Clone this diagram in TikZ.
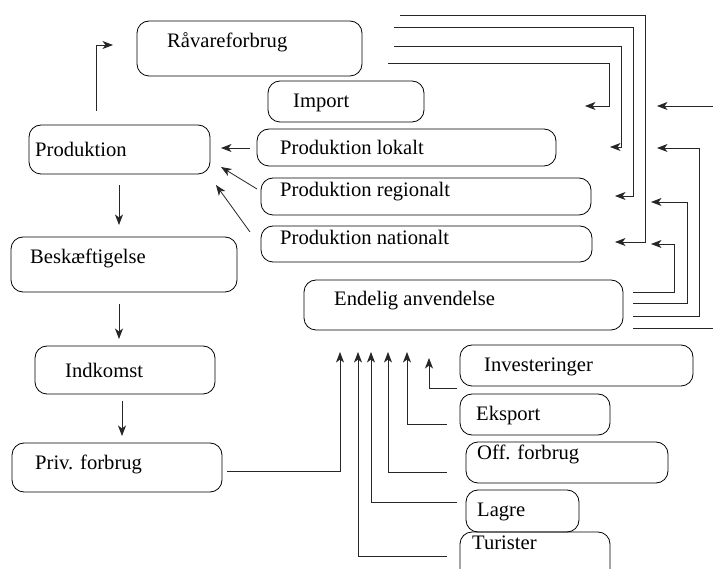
\documentclass[tikz,border=0pt]{standalone}
\usepackage{fontspec}
\setmainfont{Liberation Serif}
\usetikzlibrary{arrows.meta,fit}
\begin{document}
\begin{tikzpicture}[x=1pt,y=-1pt,
  box/.style={draw=black,line width=0.8pt,rounded corners=12pt,inner sep=0pt},
  txt/.style={anchor=base west,inner sep=0pt,font=\fontsize{20.6}{24}\selectfont},
  arr/.style={draw=black!85,line width=0.8pt,-{Stealth[length=10.5pt,width=8pt,inset=3pt]}},
  ln/.style={draw=black!85,line width=0.8pt}]
\useasboundingbox (0,0) rectangle (713,569);
\clip (0,0) rectangle (713,569);

% boxes
\node[box,fit={(137,21) (362,76)}]   (rav)  {};
\node[box,fit={(268,81) (424,122)}]  (imp)  {};
\node[box,fit={(29,125) (210,174)}]  (prod) {};
\node[box,fit={(257,129) (556,166)}] (lok)  {};
\node[box,fit={(261,178) (591,215)}] (reg)  {};
\node[box,fit={(261,226) (592,262)}] (nat)  {};
\node[box,fit={(304,280) (623,330)}] (endl) {};
\node[box,fit={(11,237) (237,292)}]  (besk) {};
\node[box,fit={(35,346) (215,394)}]  (ind)  {};
\node[box,fit={(12,443) (222,492)}]  (priv) {};
\node[box,fit={(460,345) (693,386)}] (inv)  {};
\node[box,fit={(460,394) (610,435)}] (eks)  {};
\node[box,fit={(466,442) (668,483)}] (off)  {};
\node[box,fit={(466,490) (579,532)}] (lag)  {};
\node[box,fit={(460,532) (610,582)}] (tur)  {};

% labels
\node[txt] (travn) at (167,48)  {Råvareforbrug};
\node[txt] (timp)  at (293,108) {Import};
\node[txt] (tprod) at (35,157)  {Produktion};
\node[txt] (tlok)  at (280,155) {Produktion lokalt};
\node[txt] (treg)  at (280,197) {Produktion regionalt};
\node[txt] (tnat)  at (280,245) {Produktion nationalt};
\node[txt] (tend)  at (334,306) {Endelig anvendelse};
\node[txt] (tbesk) at (30,264)  {Beskæftigelse};
\node[txt] (tind)  at (65,378)  {Indkomst};
\node[txt] (tpriv) at (35,470)  {Priv. forbrug};
\node[txt] (tinv)  at (484,372) {Investeringer};
\node[txt] (teks)  at (476,421) {Eksport};
\node[txt] (toff)  at (477,460) {Off. forbrug};
\node[txt] (tlag)  at (477,516) {Lagre};
\node[txt] (ttur)  at (472,549) {Turister};

% connector end points
\coordinate (pUp)   at (96,111);   \coordinate (ravIn)  at (113,45);
\coordinate (lokO)  at (250,148);  \coordinate (prodA)  at (221,148);
\coordinate (regO)  at (257,189);  \coordinate (prodB)  at (221,167);
\coordinate (natO)  at (250,232);  \coordinate (prodC)  at (216,185);
\coordinate (prodD) at (119,185);  \coordinate (beskIn) at (119,225);
\coordinate (beskO) at (119,304);  \coordinate (indIn)  at (119,339);
\coordinate (indO)  at (122,401);  \coordinate (privIn) at (122,436);
\coordinate (privO) at (227,471);  \coordinate (eA)     at (340,352);
\coordinate (turO)  at (447,556);  \coordinate (eB)     at (358,352);
\coordinate (lagO)  at (457,502);  \coordinate (eC)     at (371,352);
\coordinate (offO)  at (447,472);  \coordinate (eD)     at (388,352);
\coordinate (eksO)  at (447,424);  \coordinate (eE)     at (407,352);
\coordinate (invO)  at (457,388);  \coordinate (eF)     at (429,358);

% left column
\draw[arr] (pUp) |- (ravIn);
\draw[arr] (lokO) -- (prodA);
\draw[arr] (regO) -- (prodB);
\draw[arr] (natO) -- (prodC);
\draw[arr] (prodD) -- (beskIn);
\draw[arr] (beskO) -- (indIn);
\draw[arr] (indO) -- (privIn);

% final demand components
\draw[arr] (privO) -| (eA);
\draw[arr] (turO) -| (eB);
\draw[arr] (lagO) -| (eC);
\draw[arr] (offO) -| (eD);
\draw[arr] (eksO) -| (eE);
\draw[arr] (invO) -| (eF);

% raw material feedback lines
\coordinate (r1) at (400,15); \coordinate (r2) at (394,27);
\coordinate (r3) at (394,46); \coordinate (r4) at (388,63);
\draw[arr] (r1) -| (645,242) -- (615,242);
\draw[arr] (r2) -| (633,196) -- (615,196);
\draw[arr] (r3) -| (621,147) -- (610,147);
\draw[arr] (r4) -| (609,106) -- (585,106);

% final demand feedback lines
\coordinate (f1) at (633,292); \coordinate (f2) at (633,303);
\coordinate (f3) at (633,316); \coordinate (f4) at (633,328);
\draw[arr] (f1) -| (674,244) -- (651,244);
\draw[arr] (f2) -| (687,202) -- (651,202);
\draw[arr] (f3) -| (699,148) -- (657,148);
\draw[ln]  (f4) -- (713,328);
\draw[arr] (713,106) -- (657,106);
\end{tikzpicture}
\end{document}
